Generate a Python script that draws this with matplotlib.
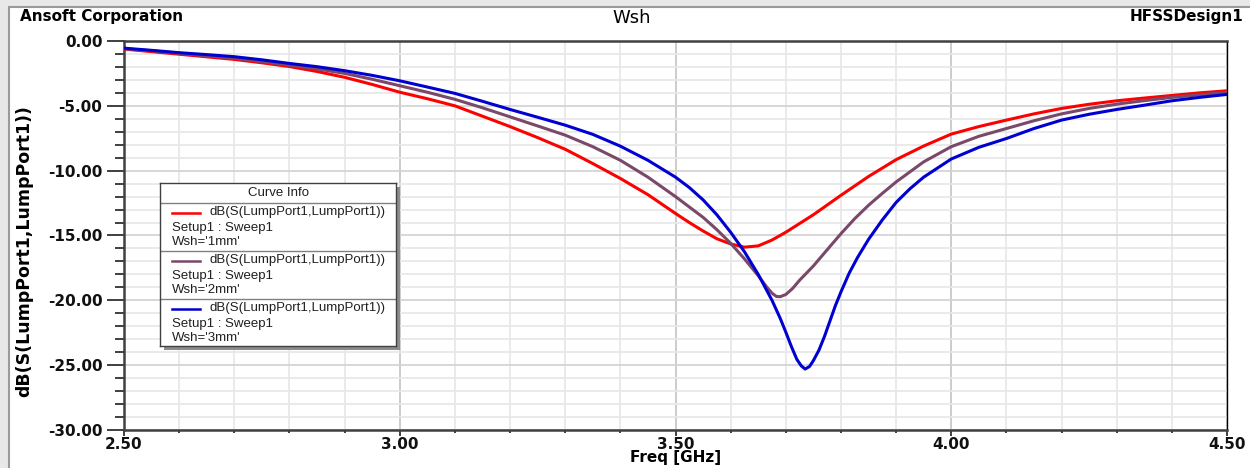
import matplotlib
matplotlib.use("Agg")
import matplotlib.pyplot as plt
from matplotlib.patches import Rectangle
from matplotlib.lines import Line2D
from matplotlib.ticker import MultipleLocator, FormatStrFormatter

# dati (Freq in GHz, dB(S11))
freq1 = [2.50, 2.55, 2.60, 2.65, 2.70, 2.75, 2.80, 2.85, 2.90, 2.95, 3.00, 3.05, 3.10, 3.15,
         3.20, 3.25, 3.30, 3.35, 3.40, 3.45, 3.50, 3.525, 3.55, 3.575, 3.60, 3.625, 3.65,
         3.675, 3.70, 3.75, 3.80, 3.85, 3.90, 3.95, 4.00, 4.05, 4.10, 4.15, 4.20, 4.25,
         4.30, 4.35, 4.40, 4.45, 4.50]
s11_1mm = [-0.62, -0.82, -1.02, -1.22, -1.42, -1.68, -1.97, -2.35, -2.80, -3.35, -3.95, -4.45,
           -5.00, -5.80, -6.60, -7.45, -8.35, -9.45, -10.60, -11.85, -13.30, -14.00, -14.65,
           -15.25, -15.65, -15.90, -15.80, -15.35, -14.75, -13.40, -11.90, -10.45, -9.15,
           -8.10, -7.18, -6.60, -6.10, -5.62, -5.20, -4.88, -4.61, -4.40, -4.20, -4.00, -3.84]

freq2 = [2.50, 2.55, 2.60, 2.65, 2.70, 2.75, 2.80, 2.85, 2.90, 2.95, 3.00, 3.05, 3.10, 3.15,
         3.20, 3.25, 3.30, 3.35, 3.40, 3.45, 3.50, 3.55, 3.575, 3.60, 3.625, 3.65, 3.665,
         3.675, 3.683, 3.69, 3.70, 3.712, 3.725, 3.75, 3.775, 3.80, 3.825, 3.85, 3.875,
         3.90, 3.95, 4.00, 4.05, 4.10, 4.15, 4.20, 4.25, 4.30, 4.35, 4.40, 4.45, 4.50]
s11_2mm = [-0.60, -0.75, -0.95, -1.15, -1.32, -1.58, -1.86, -2.15, -2.50, -2.95, -3.45, -3.95,
           -4.50, -5.15, -5.85, -6.55, -7.26, -8.15, -9.20, -10.50, -12.00, -13.60, -14.55,
           -15.60, -16.80, -18.10, -18.95, -19.45, -19.70, -19.72, -19.55, -19.10, -18.45,
           -17.35, -16.10, -14.86, -13.70, -12.67, -11.75, -10.87, -9.32, -8.15, -7.35,
           -6.75, -6.15, -5.62, -5.20, -4.87, -4.60, -4.35, -4.15, -3.97]

freq3 = [2.50, 2.55, 2.60, 2.65, 2.70, 2.75, 2.80, 2.85, 2.90, 2.95, 3.00, 3.05, 3.10, 3.15,
         3.20, 3.25, 3.30, 3.35, 3.40, 3.45, 3.50, 3.525, 3.55, 3.575, 3.60, 3.625, 3.65,
         3.675, 3.69, 3.70, 3.71, 3.72, 3.728, 3.735, 3.743, 3.75, 3.76, 3.77, 3.78, 3.79,
         3.80, 3.815, 3.83, 3.85, 3.875, 3.90, 3.925, 3.95, 4.00, 4.05, 4.10, 4.15, 4.20,
         4.25, 4.30, 4.35, 4.40, 4.45, 4.50]
s11_3mm = [-0.55, -0.72, -0.90, -1.05, -1.21, -1.45, -1.73, -1.98, -2.29, -2.65, -3.07, -3.55,
           -4.04, -4.65, -5.28, -5.88, -6.49, -7.20, -8.11, -9.20, -10.50, -11.30, -12.25,
           -13.40, -14.75, -16.25, -18.00, -20.00, -21.40, -22.45, -23.55, -24.55, -25.05,
           -25.30, -25.10, -24.65, -23.85, -22.80, -21.60, -20.40, -19.35, -17.90, -16.70,
           -15.30, -13.80, -12.45, -11.40, -10.50, -9.10, -8.20, -7.52, -6.75, -6.10, -5.65,
           -5.28, -4.95, -4.61, -4.35, -4.12]

curve_name = "dB(S(LumpPort1,LumpPort1))"
setup_name = "Setup1 : Sweep1"
wsh_labels = ["Wsh='1mm'", "Wsh='2mm'", "Wsh='3mm'"]
colori = ["#FF0000", "#7A4868", "#0000D0"]

W, H = 1250, 468
fig = plt.figure(figsize=(W / 100, H / 100), dpi=100)
fig.patch.set_facecolor("#E8E8E8")

# cornice bianca della finestra
fig.patches.append(Rectangle((9 / W, -0.1), 1.2, (H - 7) / H + 0.1, transform=fig.transFigure,
                             facecolor="white", edgecolor="#9A9A9A", lw=1.5, zorder=-10))

ax = fig.add_axes([124 / W, 1 - 430 / H, 1103 / W, 389 / H])
ax.set_facecolor("white")

ax.plot(freq1, s11_1mm, color=colori[0], lw=2.2, zorder=3)
ax.plot(freq2, s11_2mm, color=colori[1], lw=2.2, zorder=3)
ax.plot(freq3, s11_3mm, color=colori[2], lw=2.2, zorder=3)

ax.set_xlim(2.5, 4.5)
ax.set_ylim(-30, 0)
ax.xaxis.set_major_locator(MultipleLocator(0.5))
ax.xaxis.set_minor_locator(MultipleLocator(0.1))
ax.yaxis.set_major_locator(MultipleLocator(5))
ax.yaxis.set_minor_locator(MultipleLocator(1))
ax.xaxis.set_major_formatter(FormatStrFormatter("%.2f"))
ax.yaxis.set_major_formatter(FormatStrFormatter("%.2f"))

ax.grid(which="major", axis="x", color="#C8C8C8", lw=1.3, zorder=0)
ax.grid(which="minor", axis="x", color="#E8E8E8", lw=1.3, zorder=0)
ax.grid(which="major", axis="y", color="#D4D4D4", lw=1.3, zorder=0)
ax.grid(which="minor", axis="y", color="#E8E8E8", lw=1.3, zorder=0)
ax.set_axisbelow(True)

fnt = {"family": "DejaVu Sans", "weight": "bold", "size": 11}
ax.tick_params(axis="y", which="major", direction="out", length=12.5, width=1.3,
               color="#303030", pad=3)
ax.tick_params(axis="y", which="minor", direction="out", length=6.5, width=1.3, color="#303030")
ax.tick_params(axis="x", which="major", direction="out", length=4, width=1.3,
               color="#303030", pad=1)
ax.tick_params(axis="x", which="minor", direction="out", length=2.5, width=1.3, color="#303030")
for lab in ax.get_xticklabels() + ax.get_yticklabels():
    lab.set_fontproperties(fnt)
    lab.set_color("#111111")

for s in ["left", "bottom", "top"]:
    ax.spines[s].set_color("#404040")
    ax.spines[s].set_linewidth(1.8)
ax.spines["right"].set_color("black")
ax.spines["right"].set_linewidth(1.0)

ax.set_xlabel("Freq [GHz]", fontdict=fnt, labelpad=0)
ax.xaxis.set_label_coords(0.5, -0.051)
ax.set_ylabel(curve_name, family="DejaVu Sans", weight="bold", size=12.5)
ax.yaxis.set_label_coords(-0.082, 0.46)

# intestazione
fig.text(20 / W, 1 - 16 / H, "Ansoft Corporation", ha="left", va="center", **fnt)
fig.text(632 / W, 1 - 18 / H, "Wsh", ha="center", va="center", family="DejaVu Sans", size=13)
fig.text(1243 / W, 1 - 16 / H, "HFSSDesign1", ha="right", va="center", **fnt)

# riquadro Curve Info (coordinate in pixel)
lx0, ly0, lw_, lh_ = 160, 183, 236, 163
fig.patches.append(Rectangle(((lx0 + 4) / W, 1 - (ly0 + lh_ + 4) / H), lw_ / W, lh_ / H,
                             transform=fig.transFigure, facecolor="#8C8C8C",
                             edgecolor="none", zorder=5))
lax = fig.add_axes([lx0 / W, 1 - (ly0 + lh_) / H, lw_ / W, lh_ / H], zorder=6)
lax.set_xlim(0, lw_)
lax.set_ylim(lh_, 0)
lax.set_xticks([])
lax.set_yticks([])
lax.set_facecolor("white")
for s in lax.spines.values():
    s.set_color("#404040")
    s.set_linewidth(1.0)

lfont = {"family": "Liberation Sans", "size": 9.5, "color": "#202020"}
lax.text(118, 10.5, "Curve Info", ha="center", va="center", **lfont)
lax.axhline(20, color="#808080", lw=1.0)
for i in range(3):
    y0 = 29.5 + i * 48
    lax.add_line(Line2D([12, 40], [y0, y0], color=colori[i], lw=1.8))
    lax.text(50, y0, curve_name, ha="left", va="center", **lfont)
    lax.text(12, y0 + 15.5, setup_name, ha="left", va="center", **lfont)
    lax.text(12, y0 + 29.5, wsh_labels[i], ha="left", va="center", **lfont)
    if i < 2:
        lax.axhline(y0 + 38.5, color="#808080", lw=1.0)

fig.savefig("out.png", dpi=100, facecolor=fig.get_facecolor())
